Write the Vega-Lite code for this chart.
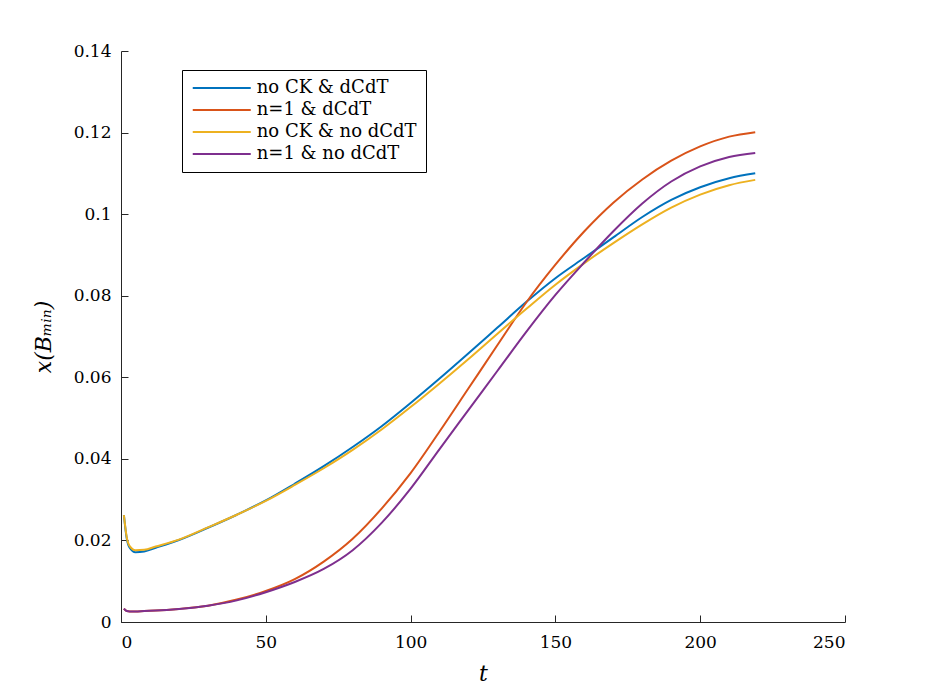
{
  "$schema": "https://vega.github.io/schema/vega-lite/v6.json",
  "width": 724,
  "height": 571,
  "autosize": {"type": "none"},
  "padding": {"left": 121, "top": 51, "right": 89, "bottom": 78},
  "background": "white",
  "config": {
    "view": {"stroke": null},
    "font": "DejaVu Serif",
    "axis": {
      "domainColor": "#262626",
      "tickColor": "#262626",
      "labelColor": "#000000",
      "titleColor": "#000000",
      "labelFont": "DejaVu Serif",
      "labelFontSize": 17,
      "titleFont": "DejaVu Serif",
      "grid": false,
      "tickSize": -7,
      "domainWidth": 1,
      "tickWidth": 1
    }
  },
  "data": {
    "values": [
      {"t": 1, "series": "no CK & dCdT", "x": 0.0262},
      {"t": 2, "series": "no CK & dCdT", "x": 0.0204},
      {"t": 3, "series": "no CK & dCdT", "x": 0.0182},
      {"t": 5, "series": "no CK & dCdT", "x": 0.0171},
      {"t": 8, "series": "no CK & dCdT", "x": 0.0173},
      {"t": 12, "series": "no CK & dCdT", "x": 0.0182},
      {"t": 20, "series": "no CK & dCdT", "x": 0.0201},
      {"t": 30, "series": "no CK & dCdT", "x": 0.0231},
      {"t": 40, "series": "no CK & dCdT", "x": 0.0263},
      {"t": 50, "series": "no CK & dCdT", "x": 0.0298},
      {"t": 60, "series": "no CK & dCdT", "x": 0.0339},
      {"t": 70, "series": "no CK & dCdT", "x": 0.0382},
      {"t": 80, "series": "no CK & dCdT", "x": 0.0429},
      {"t": 90, "series": "no CK & dCdT", "x": 0.0480},
      {"t": 100, "series": "no CK & dCdT", "x": 0.0537},
      {"t": 110, "series": "no CK & dCdT", "x": 0.0597},
      {"t": 120, "series": "no CK & dCdT", "x": 0.0659},
      {"t": 130, "series": "no CK & dCdT", "x": 0.0722},
      {"t": 140, "series": "no CK & dCdT", "x": 0.0785},
      {"t": 150, "series": "no CK & dCdT", "x": 0.0843},
      {"t": 160, "series": "no CK & dCdT", "x": 0.0893},
      {"t": 170, "series": "no CK & dCdT", "x": 0.0943},
      {"t": 180, "series": "no CK & dCdT", "x": 0.0993},
      {"t": 190, "series": "no CK & dCdT", "x": 0.1035},
      {"t": 200, "series": "no CK & dCdT", "x": 0.1066},
      {"t": 210, "series": "no CK & dCdT", "x": 0.1088},
      {"t": 219, "series": "no CK & dCdT", "x": 0.1100},

      {"t": 1, "series": "n=1 & dCdT", "x": 0.0033},
      {"t": 2, "series": "n=1 & dCdT", "x": 0.0027},
      {"t": 3, "series": "n=1 & dCdT", "x": 0.0026},
      {"t": 5, "series": "n=1 & dCdT", "x": 0.0026},
      {"t": 8, "series": "n=1 & dCdT", "x": 0.0027},
      {"t": 12, "series": "n=1 & dCdT", "x": 0.0028},
      {"t": 20, "series": "n=1 & dCdT", "x": 0.0032},
      {"t": 30, "series": "n=1 & dCdT", "x": 0.0040},
      {"t": 40, "series": "n=1 & dCdT", "x": 0.0055},
      {"t": 50, "series": "n=1 & dCdT", "x": 0.0076},
      {"t": 60, "series": "n=1 & dCdT", "x": 0.0105},
      {"t": 70, "series": "n=1 & dCdT", "x": 0.0148},
      {"t": 80, "series": "n=1 & dCdT", "x": 0.0204},
      {"t": 90, "series": "n=1 & dCdT", "x": 0.0278},
      {"t": 100, "series": "n=1 & dCdT", "x": 0.0365},
      {"t": 110, "series": "n=1 & dCdT", "x": 0.0467},
      {"t": 120, "series": "n=1 & dCdT", "x": 0.0573},
      {"t": 130, "series": "n=1 & dCdT", "x": 0.0679},
      {"t": 140, "series": "n=1 & dCdT", "x": 0.0784},
      {"t": 150, "series": "n=1 & dCdT", "x": 0.0876},
      {"t": 160, "series": "n=1 & dCdT", "x": 0.0958},
      {"t": 170, "series": "n=1 & dCdT", "x": 0.1028},
      {"t": 180, "series": "n=1 & dCdT", "x": 0.1085},
      {"t": 190, "series": "n=1 & dCdT", "x": 0.1131},
      {"t": 200, "series": "n=1 & dCdT", "x": 0.1166},
      {"t": 210, "series": "n=1 & dCdT", "x": 0.1190},
      {"t": 219, "series": "n=1 & dCdT", "x": 0.1201},

      {"t": 1, "series": "no CK & no dCdT", "x": 0.0262},
      {"t": 2, "series": "no CK & no dCdT", "x": 0.0207},
      {"t": 3, "series": "no CK & no dCdT", "x": 0.0186},
      {"t": 5, "series": "no CK & no dCdT", "x": 0.0176},
      {"t": 8, "series": "no CK & no dCdT", "x": 0.0177},
      {"t": 12, "series": "no CK & no dCdT", "x": 0.0185},
      {"t": 20, "series": "no CK & no dCdT", "x": 0.0202},
      {"t": 30, "series": "no CK & no dCdT", "x": 0.0232},
      {"t": 40, "series": "no CK & no dCdT", "x": 0.0263},
      {"t": 50, "series": "no CK & no dCdT", "x": 0.0297},
      {"t": 60, "series": "no CK & no dCdT", "x": 0.0336},
      {"t": 70, "series": "no CK & no dCdT", "x": 0.0377},
      {"t": 80, "series": "no CK & no dCdT", "x": 0.0422},
      {"t": 90, "series": "no CK & no dCdT", "x": 0.0472},
      {"t": 100, "series": "no CK & no dCdT", "x": 0.0527},
      {"t": 110, "series": "no CK & no dCdT", "x": 0.0585},
      {"t": 120, "series": "no CK & no dCdT", "x": 0.0645},
      {"t": 130, "series": "no CK & no dCdT", "x": 0.0707},
      {"t": 140, "series": "no CK & no dCdT", "x": 0.0768},
      {"t": 150, "series": "no CK & no dCdT", "x": 0.0827},
      {"t": 160, "series": "no CK & no dCdT", "x": 0.0880},
      {"t": 170, "series": "no CK & no dCdT", "x": 0.0929},
      {"t": 180, "series": "no CK & no dCdT", "x": 0.0975},
      {"t": 190, "series": "no CK & no dCdT", "x": 0.1016},
      {"t": 200, "series": "no CK & no dCdT", "x": 0.1048},
      {"t": 210, "series": "no CK & no dCdT", "x": 0.1071},
      {"t": 219, "series": "no CK & no dCdT", "x": 0.1084},

      {"t": 1, "series": "n=1 & no dCdT", "x": 0.0033},
      {"t": 2, "series": "n=1 & no dCdT", "x": 0.0027},
      {"t": 3, "series": "n=1 & no dCdT", "x": 0.0026},
      {"t": 5, "series": "n=1 & no dCdT", "x": 0.0026},
      {"t": 8, "series": "n=1 & no dCdT", "x": 0.0027},
      {"t": 12, "series": "n=1 & no dCdT", "x": 0.0028},
      {"t": 20, "series": "n=1 & no dCdT", "x": 0.0032},
      {"t": 30, "series": "n=1 & no dCdT", "x": 0.0040},
      {"t": 40, "series": "n=1 & no dCdT", "x": 0.0053},
      {"t": 50, "series": "n=1 & no dCdT", "x": 0.0073},
      {"t": 60, "series": "n=1 & no dCdT", "x": 0.0098},
      {"t": 70, "series": "n=1 & no dCdT", "x": 0.0130},
      {"t": 80, "series": "n=1 & no dCdT", "x": 0.0176},
      {"t": 90, "series": "n=1 & no dCdT", "x": 0.0243},
      {"t": 100, "series": "n=1 & no dCdT", "x": 0.0327},
      {"t": 110, "series": "n=1 & no dCdT", "x": 0.0424},
      {"t": 120, "series": "n=1 & no dCdT", "x": 0.0520},
      {"t": 130, "series": "n=1 & no dCdT", "x": 0.0616},
      {"t": 140, "series": "n=1 & no dCdT", "x": 0.0712},
      {"t": 150, "series": "n=1 & no dCdT", "x": 0.0802},
      {"t": 160, "series": "n=1 & no dCdT", "x": 0.0882},
      {"t": 170, "series": "n=1 & no dCdT", "x": 0.0958},
      {"t": 180, "series": "n=1 & no dCdT", "x": 0.1026},
      {"t": 190, "series": "n=1 & no dCdT", "x": 0.1080},
      {"t": 200, "series": "n=1 & no dCdT", "x": 0.1117},
      {"t": 210, "series": "n=1 & no dCdT", "x": 0.1140},
      {"t": 219, "series": "n=1 & no dCdT", "x": 0.1150}
    ]
  },
  "mark": {"type": "line", "interpolate": "monotone", "strokeWidth": 2},
  "encoding": {
    "x": {
      "field": "t", "type": "quantitative",
      "scale": {"domain": [0, 250], "nice": false, "zero": false},
      "axis": {"values": [0, 50, 100, 150, 200, 250], "title": "t", "titleFontStyle": "italic", "titleFontWeight": "normal", "titleFontSize": 22, "titlePadding": 13, "labelPadding": 19}
    },
    "y": {
      "field": "x", "type": "quantitative",
      "scale": {"domain": [0, 0.14], "nice": false},
      "axis": {"values": [0, 0.02, 0.04, 0.06, 0.08, 0.1, 0.12, 0.14], "format": "~g", "title": "x(Bₘᵢₙ)", "titleFontStyle": "italic", "titleFontWeight": "normal", "titleFontSize": 22, "titlePadding": 18, "labelPadding": 17}
    },
    "color": {
      "field": "series", "type": "nominal",
      "scale": {
        "domain": ["no CK & dCdT", "n=1 & dCdT", "no CK & no dCdT", "n=1 & no dCdT"],
        "range": ["#0072BD", "#D95319", "#EDB120", "#7E2F8E"]
      },
      "legend": {
        "title": null,
        "orient": "none",
        "legendX": 61,
        "legendY": 19,
        "symbolType": "M-4,0H4",
        "symbolSize": 210.25,
        "symbolStrokeWidth": 2,
        "symbolOffset": 21.75,
        "labelFont": "DejaVu Serif",
        "labelFontSize": 18,
        "labelColor": "#000000",
        "strokeColor": "#000000",
        "fillColor": "white",
        "padding": 9,
        "rowPadding": 4,
        "labelOffset": 26
      }
    }
  }
}
